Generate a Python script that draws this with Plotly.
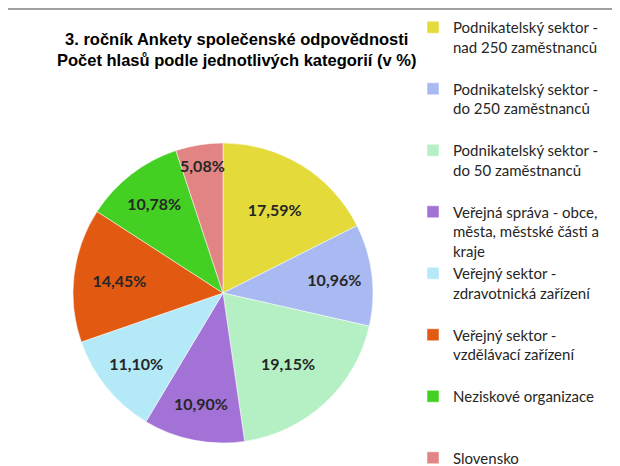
import plotly.graph_objects as go

categories = [
    "Podnikatelský sektor -<br>nad 250 zaměstnanců",
    "Podnikatelský sektor -<br>do 250 zaměstnanců",
    "Podnikatelský sektor -<br>do 50 zaměstnanců",
    "Veřejná správa - obce,<br>města, městské části a<br>kraje",
    "Veřejný sektor -<br>zdravotnická zařízení",
    "Veřejný sektor -<br>vzdělávací zařízení",
    "Neziskové organizace",
    "Slovensko",
]
values = [17.59, 10.96, 19.15, 10.90, 11.10, 14.45, 10.78, 5.08]
colors = ["#E4DA3A", "#A9B9F2", "#B4F0C4", "#A272D6", "#B4E9F8", "#E25A12", "#44D022", "#E28484"]

title_text = "3. ročník Ankety společenské odpovědnosti<br>Počet hlasů podle jednotlivých kategorií (v %)"

# legend labels padded with blank lines to mimic the spacing of the original legend
pads = ["<br> ", "<br> ", "<br> ", "", "<br> ", "<br> ", "<br> <br> ", ""]
legend_labels = [c + p for c, p in zip(categories, pads)]

R = 150
CX, CY = 215, 466 - 285

fig = go.Figure(
    go.Pie(
        labels=legend_labels,
        values=values,
        sort=False,
        direction="clockwise",
        rotation=0,
        marker=dict(colors=colors, line=dict(color="rgba(255,255,255,0.5)", width=1)),
        texttemplate="%{value:.2f}%",
        textposition="inside",
        insidetextorientation="horizontal",
        textfont=dict(family="Lato", size=16, color="#262626", weight="bold"),
        hoverinfo="label+value",
        domain=dict(x=[(CX - R) / 620, (CX + R) / 620], y=[(CY - R) / 466, (CY + R) / 466]),
    )
)

fig.update_layout(
    width=620,
    height=466,
    margin=dict(l=0, r=0, t=0, b=0),
    paper_bgcolor="white",
    separators=",.",
    uniformtext=dict(minsize=16, mode="show"),
    showlegend=True,
    legend=dict(
        x=405 / 620,
        y=1 - 4 / 466,
        xanchor="left",
        yanchor="top",
        valign="top",
        font=dict(family="Lato", size=15, color="#262626"),
        bgcolor="rgba(0,0,0,0)",
        traceorder="normal",
    ),
    annotations=[
        dict(
            text=title_text,
            x=228 / 620,
            y=1 - 20 / 466,
            xref="paper",
            yref="paper",
            xanchor="center",
            yanchor="top",
            showarrow=False,
            font=dict(family="Liberation Sans", size=16.5, color="#000000", weight="bold"),
            align="center",
        )
    ],
    shapes=[
        dict(type="line", xref="paper", yref="paper", x0=0, x1=1, y0=1 - 1 / 466, y1=1 - 1 / 466,
             line=dict(color="#A0A0A0", width=2))
    ],
)

fig.write_html("out.html")
